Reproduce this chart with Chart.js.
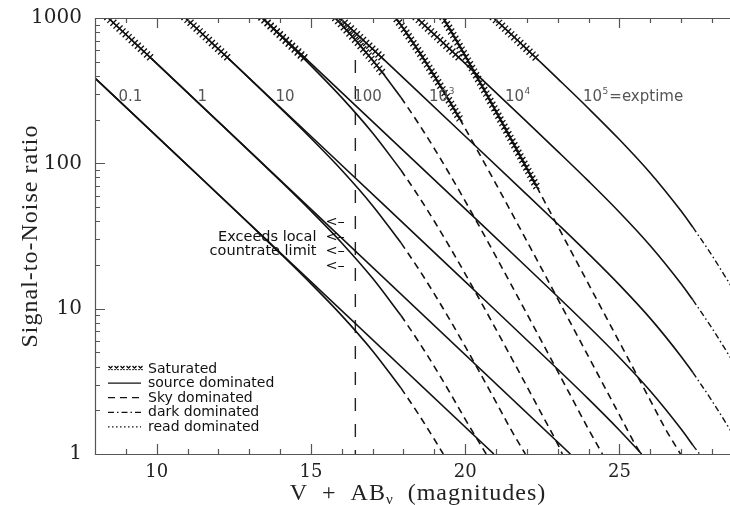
<!DOCTYPE html>
<html>
<head>
<meta charset="utf-8">
<title>Signal-to-Noise ratio vs V + AB</title>
<script src="https://cdn.jsdelivr.net/npm/chart.js@4.4.1/dist/chart.umd.min.js"></script>
<style>
html,body{margin:0;padding:0;background:#ffffff;overflow:hidden;}
#wrap{position:relative;width:730px;height:505px;}
canvas{display:block;}
</style>
</head>
<body>
<div id="wrap"><canvas id="chart" width="730" height="505"></canvas></div>
<script>
// ---------------- data (magnitude V+AB, signal-to-noise) ----------------
const xTicks = [10, 15, 20, 25];
const yTicks = [1, 10, 100, 1000];
const exptimeLabels = ['0.1', '1', '10', '100', '10^3', '10^4', '10^5=exptime'];
const legendLabels = ['Saturated', 'source dominated', 'Sky dominated', 'dark dominated', 'read dominated'];
const countrateNote = ['Exceeds local', 'countrate limit'];
const countrateLimitMag = [16.44, 16.44];
const countrateLimitSN = [514, 1];

// exposure 0.1 s
const t01_low_source  = [[8,386],[20.93,1]];
const t01_high_source = [[8,386],[11,96.89],[13,38.39],[14,24.03],[15,14.87],[16,8.96],[17,5.12],[17.92,2.84]];
const t01_high_sky    = [[17.92,2.84],[18.5,1.861],[19,1.263],[19.29,1]];
// exposure 1 s
const t1_saturated    = [[8.2,1113],[9.816,529]];
const t1_low_source   = [[9.816,529],[23.41,1]];
const t1_high_source  = [[9.816,529],[12,193.0],[13,121.4],[14,76.0],[15,47.0],[16,28.34],[17,16.18],[17.92,8.97]];
const t1_high_sky     = [[17.92,8.97],[18.5,5.886],[19,3.995],[19.5,2.655],[20,1.737],[20.68,1]];
// exposure 10 s
const t10_saturated   = [[10.7,1113],[12.316,529]];
const t10_low_source  = [[12.316,529],[16,96.97],[20,15.36],[23,3.827],[24,2.384],[25,1.458],[25.72,1]];
const t10_high_source = [[12.316,527.6],[13,383.9],[14,240.3],[15,148.7],[16,89.58],[17,51.15],[17.92,28.37]];
const t10_high_sky    = [[17.92,28.37],[18.5,18.62],[19,12.64],[19.5,8.405],[20,5.497],[20.5,3.553],[21,2.278],[21.5,1.452],[21.95,1]];
// exposure 100 s
const t100_low_saturated  = [[13.2,1113],[14.816,529]];
const t100_high_saturated = [[13.2,1106],[14,760],[14.816,514.6]];
const t100_low_source     = [[14.816,529],[20,48.57],[22,19.28],[24,7.538],[25,4.611],[26,2.712],[27,1.484],[27.38,1.15]];
const t100_low_dark       = [[27.38,1.15],[27.6,1]];
const t100_high_source    = [[14.816,514.6],[15,470.2],[16,283.3],[17,161.7],[17.92,89.72]];
const t100_high_sky       = [[17.92,89.72],[18.5,58.88],[19,39.97],[19.5,26.57],[20,17.38],[20.5,11.23],[21,7.203],[21.5,4.592],[22,2.917],[22.5,1.848],[23,1.169],[23.15,1]];
// exposure 1000 s
const t1000_low_saturated  = [[15.7,1113],[17.316,529]];
const t1000_high_saturated = [[15.6,1102],[16,896],[16.5,683.1],[17,511.7],[17.316,421.6]];
const t1000_low_source     = [[17.316,529],[20,153.6],[22,60.96],[23,38.27],[24,23.84],[25,14.58],[26,8.576],[27,4.691],[27.38,3.638]];
const t1000_low_dark       = [[27.38,3.638],[28,2.324],[28.6,1.454]];
const t1000_high_source    = [[17.316,421.6],[17.92,283.7]];
const t1000_high_sky       = [[17.92,283.7],[18.5,186.2],[19,126.4],[19.5,84.0],[20,54.97],[20.5,35.53],[21,22.78],[21.5,14.52],[22,9.219],[22.5,5.844],[23,3.696],[23.5,2.337],[24,1.476],[24.45,1]];
// exposure 10^4 s
const t1e4_low_saturated  = [[18.2,1113],[19.816,528.9]];
const t1e4_high_saturated = [[17.7,1039],[18,846.3],[18.5,588.8],[19,399.7],[19.5,265.8],[19.816,203.7]];
const t1e4_low_source     = [[19.816,528.9],[22,192.8],[23,121.0],[24,75.38],[25,46.11],[26,27.12],[27,14.84],[27.38,11.5]];
const t1e4_low_dark       = [[27.38,11.5],[28,7.35],[28.6,4.598]];
const t1e4_high_sky       = [[19.816,203.7],[20,173.8],[20.5,112.3],[21,72.03],[21.5,45.92],[22,29.15],[22.5,18.48],[23,11.69],[23.5,7.389],[24,4.667],[24.5,2.946],[25,1.86],[25.5,1.174],[25.7,1]];
// exposure 10^5 s
const t1e5_low_saturated  = [[20.7,1112],[21.5,768.6],[22.316,526.7]];
const t1e5_high_saturated = [[19.2,1076],[19.5,840.1],[20,549.7],[20.5,355.3],[21,227.8],[21.5,145.2],[22,92.24],[22.316,69.18]];
const t1e5_low_source     = [[22.316,526.7],[23,382.7],[24,238.4],[25,145.8],[26,85.76],[27,46.91],[27.38,36.38]];
const t1e5_low_dark       = [[27.38,36.38],[28,23.24],[28.6,14.54]];
const t1e5_high_sky       = [[22.316,69.18],[22.5,58.44],[23,36.96],[23.5,23.37],[24,14.76],[24.5,9.315],[25,5.882],[25.5,3.712],[26,2.343],[26.5,1.478],[26.98,1]];

// ---------------- segments -> datasets ----------------
const segments = [
  ['0.1 s low', 'source', t01_low_source], ['0.1 s high', 'source', t01_high_source], ['0.1 s high', 'sky', t01_high_sky],
  ['1 s', 'saturated', t1_saturated], ['1 s low', 'source', t1_low_source], ['1 s high', 'source', t1_high_source], ['1 s high', 'sky', t1_high_sky],
  ['10 s', 'saturated', t10_saturated], ['10 s low', 'source', t10_low_source], ['10 s high', 'source', t10_high_source], ['10 s high', 'sky', t10_high_sky],
  ['100 s low', 'saturated', t100_low_saturated], ['100 s high', 'saturated', t100_high_saturated], ['100 s low', 'source', t100_low_source],
  ['100 s low', 'dark', t100_low_dark], ['100 s high', 'source', t100_high_source], ['100 s high', 'sky', t100_high_sky],
  ['1000 s low', 'saturated', t1000_low_saturated], ['1000 s high', 'saturated', t1000_high_saturated], ['1000 s low', 'source', t1000_low_source],
  ['1000 s low', 'dark', t1000_low_dark], ['1000 s high', 'source', t1000_high_source], ['1000 s high', 'sky', t1000_high_sky],
  ['1e4 s low', 'saturated', t1e4_low_saturated], ['1e4 s high', 'saturated', t1e4_high_saturated], ['1e4 s low', 'source', t1e4_low_source],
  ['1e4 s low', 'dark', t1e4_low_dark], ['1e4 s high', 'sky', t1e4_high_sky],
  ['1e5 s low', 'saturated', t1e5_low_saturated], ['1e5 s high', 'saturated', t1e5_high_saturated], ['1e5 s low', 'source', t1e5_low_source],
  ['1e5 s low', 'dark', t1e5_low_dark], ['1e5 s high', 'sky', t1e5_high_sky]
];

const styleOf = {
  saturated: { borderDash: [], borderWidth: 1.4 },
  source:    { borderDash: [], borderWidth: 1.6 },
  sky:       { borderDash: [7, 5], borderWidth: 1.6 },
  dark:      { borderDash: [6, 3, 1.5, 3], borderWidth: 1.4 },
  read:      { borderDash: [1.5, 2.5], borderWidth: 1.4 },
  limit:     { borderDash: [13, 13], borderWidth: 1.4 }
};

const datasets = segments.map(([label, kind, pts]) => ({
  label: label + ' (' + kind + ')',
  kind,
  data: pts.map(([m, sn]) => ({ x: m, y: sn })),
  borderColor: '#111',
  ...styleOf[kind],
  pointRadius: 0,
  fill: false,
  cubicInterpolationMode: kind === 'saturated' ? 'default' : 'monotone',
  tension: 0
}));
datasets.push({
  label: 'local countrate limit', kind: 'limit',
  data: countrateLimitMag.map((m, i) => ({ x: m, y: countrateLimitSN[i] })),
  borderColor: '#222', ...styleOf.limit, pointRadius: 0, fill: false, tension: 0
});

// ---------------- annotation layout (pixels / data anchors) ----------------
const annot = {
  curveLabelAt: [[8.76, 285], [11.32, 285], [13.85, 285], [16.37, 285], [18.83, 285], [21.29, 285], [23.82, 285]],
  noteRightMag: 15.18, noteSN: [31.1, 24.9],
  arrowMag: 15.47, arrowSN: [39.5, 31.1, 24.9, 19.7],
  legendX: 108, legendY: 368, legendStep: 14.6
};

const SANS = '"DejaVu Sans", sans-serif';
const SERIF = '"Liberation Serif", serif';

function drawSupText(ctx, str, px, py, size, color) {
  ctx.fillStyle = color; ctx.textAlign = 'left'; ctx.textBaseline = 'middle';
  ctx.font = size + 'px ' + SANS;
  const i = str.indexOf('^');
  if (i < 0) { ctx.fillText(str, px, py); return; }
  const base = str.slice(0, i), sup = str[i + 1], rest = str.slice(i + 2);
  ctx.fillText(base, px, py);
  const w = ctx.measureText(base).width;
  ctx.font = Math.round(size * 0.62) + 'px ' + SANS;
  ctx.fillText(sup, px + w + 0.5, py - 6);
  const w2 = ctx.measureText(sup).width;
  ctx.font = size + 'px ' + SANS;
  ctx.fillText(rest, px + w + w2 + 1.5, py);
}

// crosses along saturated segments
const satPlugin = {
  id: 'satMarks',
  afterDatasetsDraw(chart) {
    const ctx = chart.ctx, a = chart.chartArea;
    ctx.save();
    ctx.beginPath(); ctx.rect(a.left, a.top, a.right - a.left, a.bottom - a.top); ctx.clip();
    ctx.beginPath();
    ctx.strokeStyle = '#111'; ctx.lineWidth = 1.3;
    const step = 4.2, r = 3;
    chart.data.datasets.forEach((ds, i) => {
      if (ds.kind !== 'saturated') return;
      const pts = chart.getDatasetMeta(i).data;
      let carry = 0;
      for (let k = 0; k < pts.length - 1; k++) {
        const x0 = pts[k].x, y0 = pts[k].y, x1 = pts[k + 1].x, y1 = pts[k + 1].y;
        const L = Math.hypot(x1 - x0, y1 - y0);
        let s = carry;
        while (s <= L) {
          const u = s / L, px = x0 + u * (x1 - x0), py = y0 + u * (y1 - y0);
          ctx.moveTo(px - r, py - r); ctx.lineTo(px + r, py + r);
          ctx.moveTo(px - r, py + r); ctx.lineTo(px + r, py - r);
          s += step;
        }
        carry = s - L;
      }
    });
    ctx.stroke();
    ctx.restore();
  }
};

const deco = {
  id: 'deco',
  afterDraw(chart) {
    const { ctx, chartArea: a, scales: { x, y } } = chart;
    ctx.save();
    // frame
    ctx.strokeStyle = '#555'; ctx.lineWidth = 1.2;
    ctx.beginPath();
    ctx.moveTo(a.left + 0.5, a.top); ctx.lineTo(a.left + 0.5, a.bottom + 1);
    ctx.moveTo(a.left, a.bottom + 0.5); ctx.lineTo(a.right, a.bottom + 0.5);
    ctx.moveTo(a.left, a.top + 0.5); ctx.lineTo(a.right, a.top + 0.5);
    // y ticks (inward)
    for (let d = 0; d <= 3; d++) {
      for (let k = 1; k <= 9; k++) {
        const v = k * Math.pow(10, d);
        if (v > 1000) break;
        const py = Math.round(y.getPixelForValue(v)) + 0.5;
        const len = k === 1 ? 10 : 5;
        ctx.moveTo(a.left, py); ctx.lineTo(a.left + len, py);
      }
    }
    // x ticks bottom and top (inward)
    for (let m = 9; m <= 28; m++) {
      const px = Math.round(x.getPixelForValue(m)) + 0.5;
      const len = m % 5 === 0 ? 10 : 5;
      ctx.moveTo(px, a.bottom); ctx.lineTo(px, a.bottom - len);
      ctx.moveTo(px, a.top); ctx.lineTo(px, a.top + len);
    }
    ctx.stroke();

    // curve labels
    exptimeLabels.forEach((t, i) => {
      const [m, sn] = annot.curveLabelAt[i];
      drawSupText(ctx, t, x.getPixelForValue(m), y.getPixelForValue(sn), 15, '#555');
    });

    // countrate note
    ctx.fillStyle = '#111'; ctx.font = '14.5px ' + SANS; ctx.textBaseline = 'middle';
    ctx.textAlign = 'right';
    countrateNote.forEach((s, i) => ctx.fillText(s, x.getPixelForValue(annot.noteRightMag), y.getPixelForValue(annot.noteSN[i])));
    ctx.textAlign = 'left';
    annot.arrowSN.forEach(sn => ctx.fillText('<\u2013', x.getPixelForValue(annot.arrowMag), y.getPixelForValue(sn)));

    // legend
    const lx = annot.legendX, lw = 33;
    legendLabels.forEach((s, i) => {
      const ly = annot.legendY + i * annot.legendStep;
      ctx.strokeStyle = '#111';
      if (i === 0) {
        ctx.lineWidth = 1.3; ctx.setLineDash([]); ctx.beginPath();
        for (let j = 0; j < 6; j++) { const cx = lx + 2.5 + j * 6; ctx.moveTo(cx - 2, ly - 2); ctx.lineTo(cx + 2, ly + 2); ctx.moveTo(cx - 2, ly + 2); ctx.lineTo(cx + 2, ly - 2); }
        ctx.stroke();
      } else {
        const st = styleOf[['', 'source', 'sky', 'dark', 'read'][i]];
        ctx.lineWidth = 1.3; ctx.setLineDash(st.borderDash);
        ctx.beginPath(); ctx.moveTo(lx, ly + 0.5); ctx.lineTo(lx + lw, ly + 0.5); ctx.stroke();
        ctx.setLineDash([]);
      }
      ctx.fillStyle = '#111'; ctx.font = '14px ' + SANS; ctx.textAlign = 'left'; ctx.textBaseline = 'middle';
      ctx.fillText(s, lx + 40, ly + 1);
    });

    // axis titles
    ctx.fillStyle = '#222';
    ctx.letterSpacing = '1px';
    ctx.textBaseline = 'alphabetic'; ctx.textAlign = 'left';
    const p1 = 'V  +  AB', p2 = '\u03bd', p3 = '  (magnitudes)';
    ctx.font = '24px ' + SERIF; const w1 = ctx.measureText(p1).width;
    ctx.font = '15px ' + SERIF; const w2 = ctx.measureText(p2).width;
    ctx.font = '24px ' + SERIF; const w3 = ctx.measureText(p3).width;
    let sx = 418 - (w1 + w2 + w3) / 2;
    const by = 500;
    ctx.fillText(p1, sx, by); sx += w1;
    ctx.font = '15px ' + SERIF; ctx.fillText(p2, sx, by + 4); sx += w2;
    ctx.font = '24px ' + SERIF; ctx.fillText(p3, sx, by);

    ctx.translate(37, (a.top + a.bottom) / 2);
    ctx.rotate(-Math.PI / 2);
    ctx.textAlign = 'center';
    ctx.fillText('Signal-to-Noise ratio', 0, 0);
    ctx.restore();
  }
};

new Chart(document.getElementById('chart'), {
  type: 'line',
  data: { datasets },
  options: {
    responsive: false,
    devicePixelRatio: 1,
    animation: false,
    events: [],
    layout: { padding: { top: 18, right: 0, bottom: 0, left: 0 } },
    plugins: { legend: { display: false }, tooltip: { enabled: false } },
    scales: {
      x: {
        type: 'linear', min: 8, max: 28.585,
        grid: { display: false, drawTicks: false },
        border: { display: false },
        afterBuildTicks: s => { s.ticks = xTicks.map(v => ({ value: v })); },
        afterFit: s => { s.height = 51; s.paddingLeft = 0; s.paddingRight = 0; },
        ticks: { font: { family: 'DejaVu Serif', size: 18 }, color: '#222', padding: 8, maxRotation: 0, autoSkip: false, callback: v => String(v) }
      },
      y: {
        type: 'logarithmic', min: 1, max: 1000,
        grid: { display: false, drawTicks: false },
        border: { display: false },
        afterBuildTicks: s => { s.ticks = yTicks.map(v => ({ value: v })); },
        afterFit: s => { s.width = 95; s.paddingTop = 0; s.paddingBottom = 0; },
        ticks: { font: { family: 'DejaVu Serif', size: 20 }, color: '#222', padding: 13, autoSkip: false, callback: v => String(v) }
      }
    }
  },
  plugins: [satPlugin, deco]
});
</script>
</body>
</html>
